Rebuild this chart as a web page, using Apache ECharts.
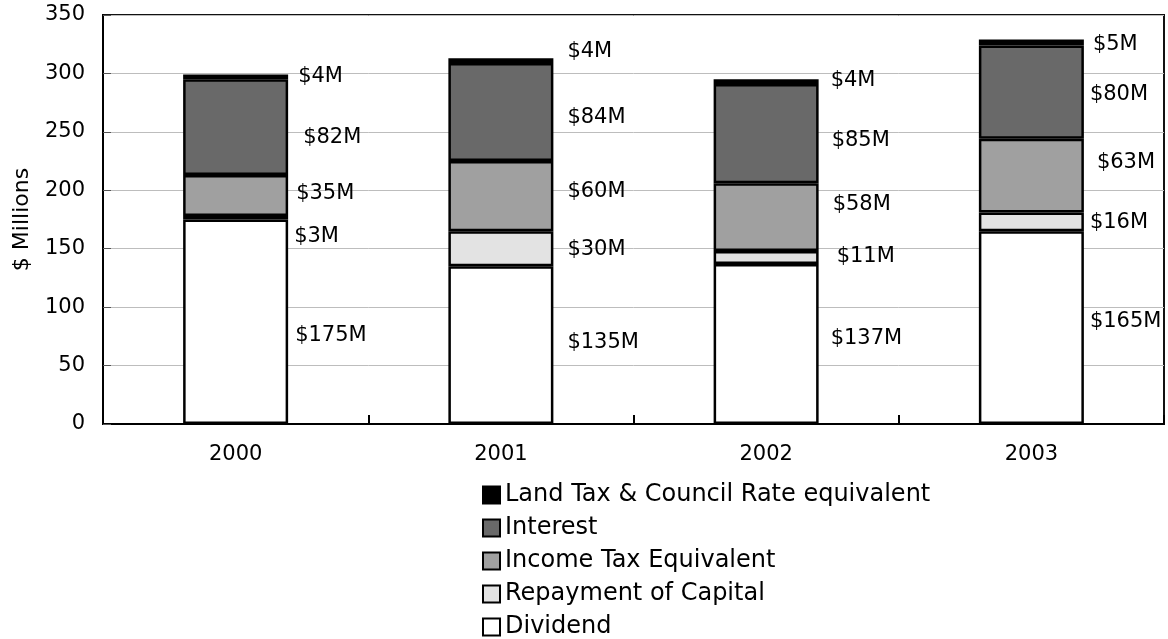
<!DOCTYPE html>
<html>
<head>
<meta charset="utf-8">
<script src="https://cdn.jsdelivr.net/npm/echarts@6/dist/echarts.min.js"></script>
<style>
  html, body { margin: 0; padding: 0; background: #fff; }
  #chart { width: 1168px; height: 639px; }
</style>
</head>
<body>
<div id="chart"></div>
<script>
// Years on the category axis
const years = ['2000', '2001', '2002', '2003'];

// Stacked components, $ millions (bottom to top)
const dividend    = [175, 135, 137, 165];
const repayment   = [3, 30, 11, 16];
const incomeTax   = [35, 60, 58, 63];
const interest    = [82, 84, 85, 80];
const landTax     = [4, 4, 4, 5];

const seriesNames = [
  'Dividend',
  'Repayment of Capital',
  'Income Tax Equivalent',
  'Interest',
  'Land Tax & Council Rate equivalent'
];
const seriesValues = [dividend, repayment, incomeTax, interest, landTax];
const seriesColors = ['#ffffff', '#e3e3e3', '#a0a0a0', '#696969', '#000000'];

// Hand-placed nudges for the value labels beside each segment [dx, dy]
const labelNudge = [
  [[2, 14], [9, -3], [7, -5], [1, -6]],
  [[1, 19], [9, 1], [13, -1], [1, 1]],
  [[3, -2], [9, -5], [9, -13], [8, -13]],
  [[10, 10], [9, 6], [8, 7], [1, 2]],
  [[5, 0], [9, -9], [7, -1], [4, 2]]
];

const FONT = 'DejaVu Sans';
const FS = 21;

const series = seriesNames.map((name, s) => ({
  name: name,
  type: 'bar',
  stack: 'total',
  barWidth: 105,
  itemStyle: { color: seriesColors[s], borderColor: '#000', borderWidth: 2.5 },
  data: seriesValues[s].map((v, i) => ({
    value: v,
    label: {
      show: true,
      position: 'right',
      distance: 5,
      offset: labelNudge[s][i],
      formatter: '$' + v + 'M',
      color: '#000',
      fontFamily: FONT,
      fontSize: FS
    }
  })),
  emphasis: { disabled: true }
}));

const chart = echarts.init(document.getElementById('chart'), null, { renderer: 'canvas' });
chart.setOption({
  animation: false,
  backgroundColor: '#fff',
  grid: {
    left: 103, right: 4, top: 15, bottom: 215,
    show: true, borderColor: '#111', borderWidth: 2, backgroundColor: 'transparent'
  },
  legend: {
    orient: 'vertical',
    left: 477,
    top: 478,
    height: 160,
    itemWidth: 17,
    itemHeight: 17,
    itemGap: 9,
    icon: 'rect',
    selectedMode: false,
    data: seriesNames.slice().reverse(),
    itemStyle: { borderColor: '#000', borderWidth: 2 },
    textStyle: { fontFamily: FONT, fontSize: 24, color: '#000' }
  },
  xAxis: {
    type: 'category',
    data: years,
    axisLine: { lineStyle: { color: '#000', width: 2 } },
    axisTick: { show: true, inside: true, length: 9, lineStyle: { color: '#000', width: 2 } },
    axisLabel: { margin: 20, fontFamily: FONT, fontSize: FS, color: '#000' }
  },
  yAxis: {
    type: 'value',
    min: 0, max: 350, interval: 50,
    name: '$ Millions',
    nameLocation: 'middle',
    nameRotate: 90,
    nameGap: 70,
    nameTextStyle: { fontFamily: FONT, fontSize: 22, color: '#000' },
    axisLine: { show: true, lineStyle: { color: '#000', width: 2 } },
    axisTick: { show: true, inside: true, length: 8, lineStyle: { color: '#555', width: 1 } },
    axisLabel: { margin: 18, fontFamily: FONT, fontSize: FS, color: '#000' },
    splitLine: { show: true, lineStyle: { color: '#bdbdbd', width: 1 } }
  },
  series: series
});
</script>
</body>
</html>
